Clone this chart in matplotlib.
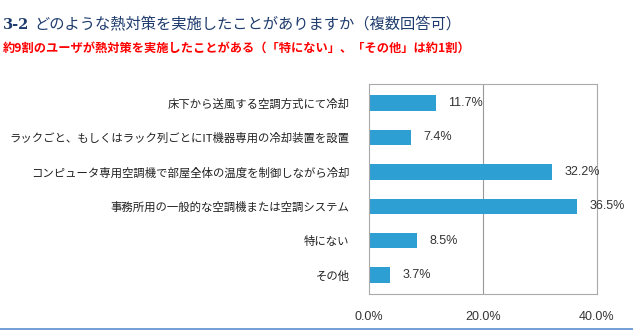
import matplotlib.pyplot as plt
from matplotlib.lines import Line2D

plt.rcParams['font.family'] = ['Noto Sans CJK JP', 'DejaVu Sans']

# Data
measures = [
    '床下から送風する空調方式にて冷却',
    'ラックごと、もしくはラック列ごとにIT機器専用の冷却装置を設置',
    'コンピュータ専用空調機で部屋全体の温度を制御しながら冷却',
    '事務所用の一般的な空調機または空調システム',
    '特にない',
    'その他',
]
percentages = [11.7, 7.4, 32.2, 36.5, 8.5, 3.7]
x_ticks = [0, 20, 40]

fig = plt.figure(figsize=(6.33, 3.3), dpi=100)
ax = fig.add_axes([0.583, 0.109, 0.36, 0.636])

y = range(len(measures))
bars = ax.barh(y, percentages, height=0.45, color='#2e9fd3')

ax.set_ylim(len(measures) - 0.45, -0.55)
ax.set_xlim(0, 40)
ax.set_yticks(list(y))
ax.set_yticklabels(measures, fontsize=8.2, color='#222222')
ax.set_xticks(x_ticks)
ax.set_xticklabels([f'{t:.1f}%' for t in x_ticks], fontsize=9, color='#333333',
                   family='Liberation Sans')
ax.tick_params(axis='y', length=0, pad=14)
ax.tick_params(axis='x', length=0, pad=12)

# Gridline and frame
ax.axvline(20, color='#999999', linewidth=0.8, zorder=0)
for spine in ax.spines.values():
    spine.set_color('#aaaaaa')
    spine.set_linewidth(0.8)

# Value labels
for bar, val in zip(bars, percentages):
    ax.annotate(f'{val}%', (bar.get_width(), bar.get_y() + bar.get_height() / 2),
                xytext=(9, 0), textcoords='offset points', va='center', ha='left',
                fontsize=9, color='#333333', family='Liberation Sans')

# Titles
fig.text(0.004, 1 - 25 / 330, '3-2', fontsize=10.5, fontweight='bold', color='#1f3c6e',
         family='DejaVu Serif', va='center')
fig.text(0.054, 1 - 25 / 330, 'どのような熱対策を実施したことがありますか（複数回答可）',
         fontsize=11, color='#1f3c6e', va='center')
fig.text(0.004, 1 - 48 / 330,
         '約9割のユーザが熱対策を実施したことがある（「特にない」、「その他」は約1割）',
         fontsize=8.8, fontweight='bold', color='#ff0000', va='center')

fig.add_artist(Line2D([0, 1], [1 - 329 / 330] * 2, color='#5b8fd0', linewidth=1.2))

plt.savefig('out.png', dpi=100)
